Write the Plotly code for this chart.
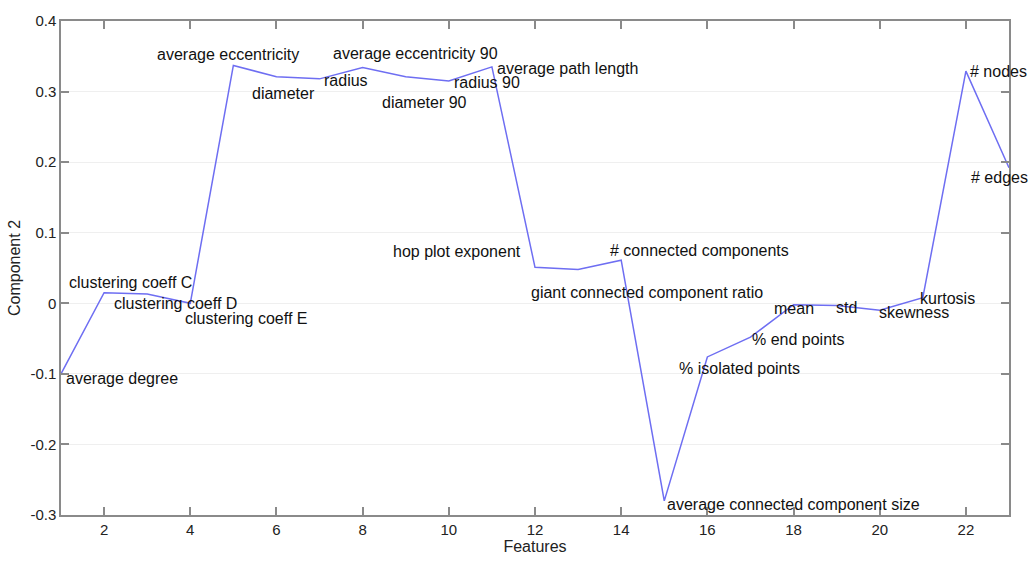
import plotly.graph_objects as go

features = list(range(1, 24))
component2 = [-0.100, 0.015, 0.013, 0.000, 0.337, 0.321, 0.318, 0.334, 0.321, 0.315,
              0.335, 0.051, 0.048, 0.061, -0.280, -0.076, -0.048, -0.002, -0.003, -0.010,
              0.008, 0.329, 0.192]

label_texts = ["average degree", "clustering coeff C", "clustering coeff D", "clustering coeff E",
               "average eccentricity", "diameter", "radius", "average eccentricity 90",
               "diameter 90", "radius 90", "average path length", "hop plot exponent",
               "giant connected component ratio", "# connected components",
               "average connected component size", "% isolated points", "% end points",
               "mean", "std", "skewness", "kurtosis", "# nodes", "# edges"]
label_x = [1.08, 1.15, 2.19, 3.82, 3.17, 5.39, 7.06, 7.27, 8.41, 10.08, 11.07, 8.66,
           11.86, 13.69, 15.01, 15.29, 16.98, 17.49, 18.93, 19.93, 20.88, 22.04, 22.08]
label_y = [-0.107, 0.029, 0.000, -0.022, 0.353, 0.297, 0.315, 0.354, 0.285, 0.3125, 0.333,
           0.074, 0.015, 0.075, -0.285, -0.092, -0.051, -0.007, -0.006, -0.0125, 0.007,
           0.328, 0.178]

x_ticks = [2, 4, 6, 8, 10, 12, 14, 16, 18, 20, 22]
y_ticks = [-0.3, -0.2, -0.1, 0, 0.1, 0.2, 0.3, 0.4]
y_tick_text = ["-0.3", "-0.2", "-0.1", "0", "0.1", "0.2", "0.3", "0.4"]

FONT = "Liberation Sans, Arial"

fig = go.Figure()
fig.add_trace(go.Scatter(x=features, y=component2, mode="lines",
                         line=dict(color="#6e6ef2", width=1.5), showlegend=False,
                         cliponaxis=False))

for t, x, y in zip(label_texts, label_x, label_y):
    fig.add_annotation(x=x, y=y, text=t, xref="x", yref="y", showarrow=False,
                       xanchor="left", yanchor="middle",
                       font=dict(family=FONT, size=16, color="#111111"))

axis_common = dict(showline=True, linecolor="#8a8a8a", linewidth=1.5, mirror="ticks",
                   ticks="inside", ticklen=8, tickcolor="#8a8a8a", tickwidth=1.5,
                   zeroline=False,
                   tickfont=dict(family=FONT, size=15, color="#222222"))

fig.update_xaxes(range=[1, 23], tickvals=x_ticks, showgrid=False,
                 title=dict(text="Features", standoff=2,
                            font=dict(family=FONT, size=16, color="#222222")),
                 **axis_common)
fig.update_yaxes(range=[-0.3, 0.4], tickvals=y_ticks, ticktext=y_tick_text,
                 showgrid=True, gridcolor="#efefef", gridwidth=1,
                 title=dict(text="Component 2", standoff=6,
                            font=dict(family=FONT, size=16, color="#222222")),
                 **axis_common)

fig.update_layout(width=1032, height=563, margin=dict(l=61, r=23, t=14, b=44),
                  plot_bgcolor="white", paper_bgcolor="white")

fig.write_html("out.html")
